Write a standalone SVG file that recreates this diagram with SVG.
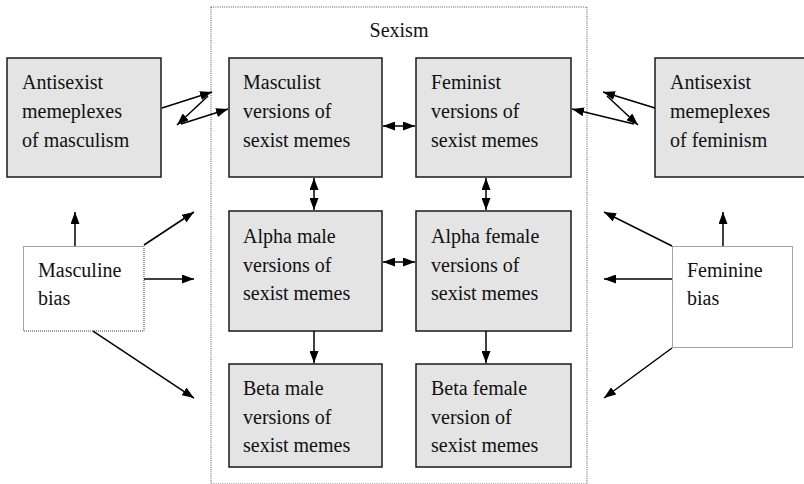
<svg xmlns="http://www.w3.org/2000/svg" width="804" height="484" viewBox="0 0 804 484">
  <style>
    .box { fill: #e4e4e4; stroke: #1a1a1a; stroke-width: 1.5; }
    .bias { fill: #ffffff; stroke: #444; stroke-width: 1; stroke-dasharray: 1 1; }
    .frame { fill: none; stroke: #555; stroke-width: 1; stroke-dasharray: 1 1.2; }
    .lbl { font-family: 'Liberation Serif', 'DejaVu Serif', serif; font-size: 20px; fill: #111; }
    .conn line { stroke: #000; stroke-width: 1.5; fill: none; }
  </style>
  <defs>
    <marker id="ah" viewBox="0 0 12 9" refX="12" refY="4.5" markerWidth="12" markerHeight="9" markerUnits="userSpaceOnUse" orient="auto-start-reverse">
      <path d="M0,0 L12,4.5 L0,9 Z" fill="#000"/>
    </marker>
  </defs>

  <!-- Sexism container -->
  <g id="sexism">
    <rect class="frame" x="211" y="7" width="376" height="477"/>
    <text class="lbl" font-family="Liberation Serif, serif" x="399" y="37" text-anchor="middle">Sexism</text>
  </g>

  <g id="antisexist-masculism" class="lbl" font-family="Liberation Serif, serif">
    <rect class="box" x="7" y="58" width="154" height="119"/>
    <text x="22" y="89">Antisexist</text>
    <text x="22" y="118">memeplexes</text>
    <text x="22" y="147">of masculism</text>
  </g>

  <g id="masculist" class="lbl" font-family="Liberation Serif, serif">
    <rect class="box" x="229" y="58" width="153" height="119"/>
    <text x="243" y="89">Masculist</text>
    <text x="243" y="118">versions of</text>
    <text x="243" y="147">sexist memes</text>
  </g>

  <g id="feminist" class="lbl" font-family="Liberation Serif, serif">
    <rect class="box" x="416" y="58" width="155" height="119"/>
    <text x="431" y="89">Feminist</text>
    <text x="431" y="118">versions of</text>
    <text x="431" y="147">sexist memes</text>
  </g>

  <g id="antisexist-feminism" class="lbl" font-family="Liberation Serif, serif">
    <rect class="box" x="655" y="58" width="160" height="119"/>
    <text x="670" y="89">Antisexist</text>
    <text x="670" y="118">memeplexes</text>
    <text x="670" y="147">of feminism</text>
  </g>

  <g id="alpha-male" class="lbl" font-family="Liberation Serif, serif">
    <rect class="box" x="229" y="211" width="153" height="120"/>
    <text x="243" y="243">Alpha male</text>
    <text x="243" y="272">versions of</text>
    <text x="243" y="300">sexist memes</text>
  </g>

  <g id="alpha-female" class="lbl" font-family="Liberation Serif, serif">
    <rect class="box" x="416" y="211" width="155" height="120"/>
    <text x="431" y="243">Alpha female</text>
    <text x="431" y="272">versions of</text>
    <text x="431" y="300">sexist memes</text>
  </g>

  <g id="beta-male" class="lbl" font-family="Liberation Serif, serif">
    <rect class="box" x="229" y="364" width="153" height="103"/>
    <text x="243" y="395">Beta male</text>
    <text x="243" y="424">versions of</text>
    <text x="243" y="452">sexist memes</text>
  </g>

  <g id="beta-female" class="lbl" font-family="Liberation Serif, serif">
    <rect class="box" x="416" y="364" width="155" height="103"/>
    <text x="431" y="395">Beta female</text>
    <text x="431" y="424">version of</text>
    <text x="431" y="452">sexist memes</text>
  </g>

  <g id="masculine-bias" class="lbl" font-family="Liberation Serif, serif">
    <rect class="bias" x="23.5" y="246.5" width="120.5" height="84.5"/>
    <text x="38" y="277">Masculine</text>
    <text x="38" y="305">bias</text>
  </g>

  <g id="feminine-bias" class="lbl" font-family="Liberation Serif, serif">
    <rect class="bias" x="672.5" y="246.5" width="120" height="101"/>
    <text x="687" y="277">Feminine</text>
    <text x="687" y="305">bias</text>
  </g>

  <g id="connectors" class="conn">
    <!-- horizontal exchanges between the two columns -->
    <line x1="383" y1="126" x2="415" y2="126" marker-start="url(#ah)" marker-end="url(#ah)"/>
    <line x1="383" y1="262" x2="415" y2="262" marker-start="url(#ah)" marker-end="url(#ah)"/>
    <!-- vertical exchanges -->
    <line x1="314" y1="178" x2="314" y2="210" marker-start="url(#ah)" marker-end="url(#ah)"/>
    <line x1="486" y1="178" x2="486" y2="210" marker-start="url(#ah)" marker-end="url(#ah)"/>
    <line x1="314" y1="331" x2="314" y2="363" marker-end="url(#ah)"/>
    <line x1="486" y1="331" x2="486" y2="363" marker-end="url(#ah)"/>

    <!-- left zigzag -->
    <line x1="162" y1="108" x2="212" y2="92" marker-end="url(#ah)"/>
    <line x1="208" y1="96" x2="177" y2="125" marker-end="url(#ah)"/>
    <line x1="181" y1="124" x2="228" y2="109" marker-end="url(#ah)"/>

    <!-- right zigzag -->
    <line x1="655" y1="108" x2="603" y2="92" marker-end="url(#ah)"/>
    <line x1="607" y1="96" x2="638" y2="125" marker-end="url(#ah)"/>
    <line x1="634" y1="124" x2="572" y2="109" marker-end="url(#ah)"/>

    <!-- masculine bias -->
    <line x1="75" y1="246" x2="75" y2="212" marker-end="url(#ah)"/>
    <line x1="144" y1="245" x2="194" y2="212" marker-end="url(#ah)"/>
    <line x1="144" y1="279" x2="194" y2="279" marker-end="url(#ah)"/>
    <line x1="93" y1="331" x2="194" y2="398" marker-end="url(#ah)"/>

    <!-- feminine bias -->
    <line x1="723" y1="246" x2="723" y2="212" marker-end="url(#ah)"/>
    <line x1="672" y1="246" x2="604" y2="212" marker-end="url(#ah)"/>
    <line x1="672" y1="279" x2="604" y2="279" marker-end="url(#ah)"/>
    <line x1="672" y1="348" x2="604" y2="398" marker-end="url(#ah)"/>
  </g>
</svg>
